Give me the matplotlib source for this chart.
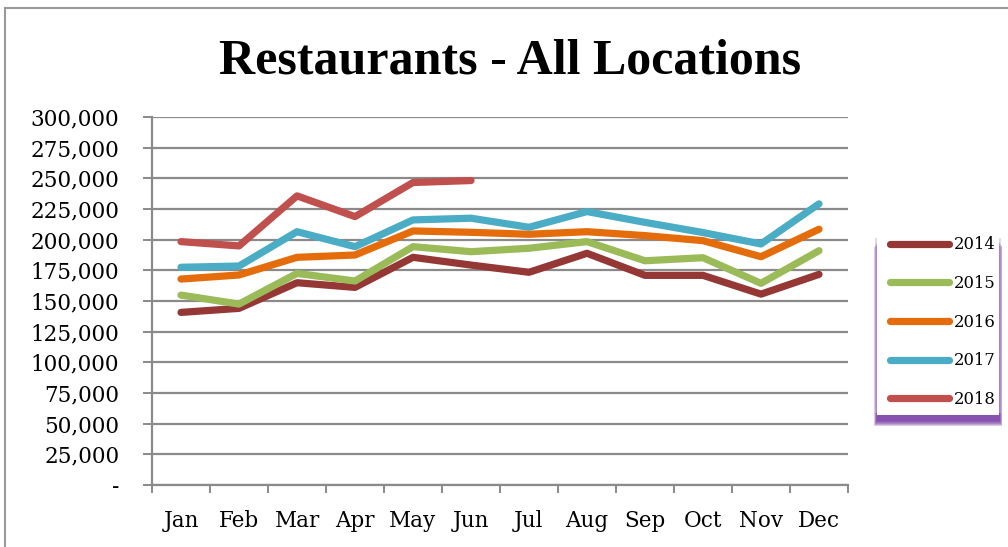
import numpy as np
import matplotlib
matplotlib.use("Agg")
import matplotlib.pyplot as plt
from matplotlib.patches import Rectangle
from matplotlib.ticker import FuncFormatter

months = ['Jan', 'Feb', 'Mar', 'Apr', 'May', 'Jun',
          'Jul', 'Aug', 'Sep', 'Oct', 'Nov', 'Dec']

sales_2014 = [140700, 144000, 164900, 161100, 185600, 179300,
              173400, 188900, 170900, 170900, 155600, 171700]
sales_2015 = [154800, 147500, 172500, 166300, 194300, 190200,
              193000, 198400, 182800, 185300, 164400, 191000]
sales_2016 = [167900, 171200, 185600, 187500, 207100, 206000,
              204400, 206500, 203300, 199200, 186100, 208500]
sales_2017 = [177500, 178500, 206500, 194300, 216100, 217500,
              210100, 222900, 214100, 205800, 196500, 229200]
sales_2018 = [198400, 194900, 235700, 218800, 246600, 248200]

years = ['2014', '2015', '2016', '2017', '2018']
series = [sales_2014, sales_2015, sales_2016, sales_2017, sales_2018]
colors = ['#953735', '#9BBB59', '#E46C0A', '#4BACC6', '#C0504D']

W, H = 1008, 547
grid_col = '#8a8a8a'
serif = ['DejaVu Serif']

fig = plt.figure(figsize=(W / 100, H / 100), dpi=100)

def px(x0, y0, x1, y1):
    # pixel box (top-left origin) -> figure fraction rect
    return [x0 / W, 1 - y1 / H, (x1 - x0) / W, (y1 - y0) / H]

# outer chart border
fig.patches.append(Rectangle((5 / W, -0.1), 1.1, 1 - 8 / H + 0.1,
                             transform=fig.transFigure, fill=False,
                             edgecolor='#999999', linewidth=1.5))

ax = fig.add_axes(px(152, 117, 848, 485))
x = np.arange(len(months))
for yr, vals, c in zip(years, series, colors):
    ax.plot(x[:len(vals)], vals, color=c, linewidth=5.2, label=yr,
            solid_capstyle='round', solid_joinstyle='round', zorder=3)

ax.set_xlim(-0.5, 11.5)
ax.set_ylim(0, 300000)
ax.set_yticks(np.arange(0, 300001, 25000))
ax.yaxis.set_major_formatter(FuncFormatter(
    lambda v, p: '-' if v == 0 else f'{v:,.0f}'))
ax.set_xticks(x)
ax.set_xticklabels(months)
ax.set_xticks(np.arange(-0.5, 12, 1), minor=True)

ax.grid(axis='y', color=grid_col, linewidth=1.6, zorder=1)
ax.set_axisbelow(True)
for s in ['top', 'right']:
    ax.spines[s].set_visible(False)
for s in ['left', 'bottom']:
    ax.spines[s].set_color(grid_col)
    ax.spines[s].set_linewidth(1.6)

ax.tick_params(axis='y', direction='out', length=6.5, width=1.4,
               color=grid_col, pad=17, labelsize=15.5)
ax.tick_params(axis='x', which='major', length=0, pad=18, labelsize=15.5)
ax.tick_params(axis='x', which='minor', direction='out', length=6,
               width=1.4, color=grid_col)
for lab in ax.get_xticklabels() + ax.get_yticklabels():
    lab.set_family(serif)

fig.text(510 / W, 1 - 62 / H, 'Restaurants - All Locations',
         ha='center', va='center', fontsize=36, fontweight='bold',
         family=['Liberation Serif'])

# legend box with a soft purple shadow under its lower edge
lx0, ly0, lx1, ly1 = 877, 230, 999, 415
for i in range(6):
    grow = 6 - i
    fig.patches.append(Rectangle(
        ((lx0 - grow * 0.5) / W, 1 - (ly1 + 5 + grow) / H),
        (lx1 - lx0 + grow) / W, (ly1 - ly0 - 6) / H,
        transform=fig.transFigure, facecolor='#7030A0',
        edgecolor='none', alpha=0.25, zorder=1))
fig.patches.append(Rectangle(
    ((lx0 - 2) / W, 1 - (ly1 - 2) / H), (lx1 - lx0 + 4) / W,
    (ly1 - ly0 - 10) / H, transform=fig.transFigure,
    facecolor='#c6b2de', edgecolor='none', alpha=0.5, zorder=1))
fig.patches.append(Rectangle((lx0 / W, 1 - ly1 / H), (lx1 - lx0) / W,
                             (ly1 - ly0) / H, transform=fig.transFigure,
                             facecolor='white', edgecolor='none', zorder=2))

leg = fig.legend(loc='upper left', bbox_to_anchor=(879 / W, 1 - 225 / H),
                 frameon=False, handlelength=3.6, handletextpad=0.25,
                 labelspacing=1.32, borderpad=0.2,
                 prop={'family': serif, 'size': 11.8})
leg.set_zorder(5)
for h in leg.get_lines():
    h.set_linewidth(5.2)
    h.set_solid_capstyle('round')

fig.savefig('out.png', dpi=100, facecolor='white')
